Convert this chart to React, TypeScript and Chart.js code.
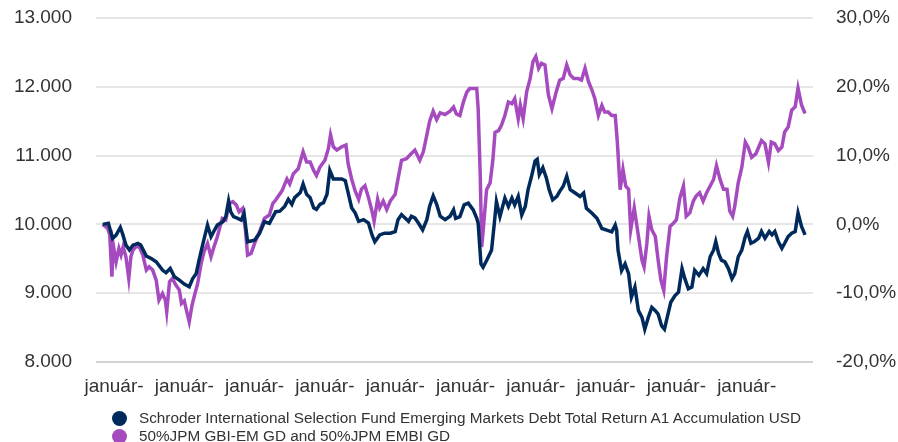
import React, { useEffect, useRef } from 'react';
import { Chart, registerables } from 'chart.js';

Chart.register(...registerables);

const fundLabel = 'Schroder International Selection Fund Emerging Markets Debt Total Return A1 Accumulation USD';
const benchLabel = '50%JPM GBI-EM GD and 50%JPM EMBI GD';

const tickYears = [2015, 2016, 2017, 2018, 2019, 2020, 2021, 2022, 2023, 2024];
const tickLabels = ['január-', 'január-', 'január-', 'január-', 'január-', 'január-', 'január-', 'január-', 'január-', 'január-'];
const leftTicks = [8000, 9000, 10000, 11000, 12000, 13000];
const rightTicks = [-20, -10, 0, 10, 20, 30];

// [decimal year, value of 10.000 invested]
const fundPoints: [number, number][] = [
  [2014.84, 10000], [2014.92, 10015], [2014.98, 9796], [2015.03, 9845], [2015.09, 9956], [2015.12, 9869],
  [2015.17, 9699], [2015.22, 9627], [2015.27, 9699], [2015.34, 9724], [2015.38, 9699], [2015.46, 9539],
  [2015.53, 9505], [2015.60, 9457], [2015.69, 9336], [2015.74, 9297], [2015.80, 9360], [2015.86, 9239],
  [2015.93, 9190], [2016.00, 9132], [2016.07, 9093], [2016.12, 9214], [2016.17, 9287], [2016.21, 9481],
  [2016.26, 9699], [2016.33, 9990], [2016.38, 9821], [2016.43, 9918], [2016.47, 9990], [2016.55, 10039],
  [2016.59, 10112], [2016.63, 10340], [2016.66, 10184], [2016.70, 10112], [2016.76, 10087], [2016.81, 10063],
  [2016.85, 10160], [2016.90, 9748], [2017.00, 9772], [2017.07, 9869], [2017.14, 10039], [2017.21, 10015],
  [2017.30, 10184], [2017.36, 10192], [2017.43, 10266], [2017.48, 10365], [2017.53, 10291], [2017.57, 10389],
  [2017.65, 10463], [2017.69, 10587], [2017.74, 10439], [2017.79, 10389], [2017.84, 10242], [2017.88, 10217],
  [2017.93, 10291], [2017.98, 10316], [2018.03, 10439], [2018.07, 10784], [2018.12, 10661], [2018.17, 10661],
  [2018.24, 10661], [2018.29, 10636], [2018.33, 10463], [2018.38, 10242], [2018.43, 10168], [2018.48, 10044],
  [2018.55, 10069], [2018.62, 10020], [2018.67, 9847], [2018.71, 9749], [2018.78, 9847], [2018.85, 9872],
  [2018.93, 9872], [2019.00, 9896], [2019.04, 10069], [2019.09, 10143], [2019.14, 10094], [2019.19, 10044],
  [2019.23, 10118], [2019.28, 10094], [2019.33, 10020], [2019.39, 9921], [2019.45, 10069], [2019.49, 10266],
  [2019.54, 10414], [2019.59, 10291], [2019.64, 10118], [2019.71, 10069], [2019.78, 10118], [2019.83, 10211],
  [2019.86, 10088], [2019.92, 10113], [2019.98, 10284], [2020.04, 10309], [2020.11, 10211], [2020.16, 10088],
  [2020.18, 10015], [2020.22, 9427], [2020.25, 9378], [2020.30, 9476], [2020.37, 9623], [2020.41, 10015],
  [2020.44, 10333], [2020.49, 10113], [2020.56, 10382], [2020.61, 10260], [2020.66, 10382], [2020.70, 10284],
  [2020.75, 10407], [2020.80, 10137], [2020.85, 10260], [2020.89, 10505], [2020.94, 10701], [2020.99, 10921],
  [2021.02, 10946], [2021.05, 10725], [2021.10, 10823], [2021.15, 10676], [2021.19, 10505], [2021.24, 10358],
  [2021.30, 10407], [2021.34, 10480], [2021.39, 10554], [2021.44, 10701], [2021.49, 10505], [2021.56, 10456],
  [2021.63, 10407], [2021.68, 10456], [2021.72, 10235], [2021.80, 10162], [2021.87, 10088], [2021.94, 9941],
  [2022.01, 9917], [2022.08, 9892], [2022.13, 9990], [2022.15, 9917], [2022.17, 9623], [2022.22, 9329],
  [2022.27, 9427], [2022.32, 9285], [2022.36, 8942], [2022.41, 9089], [2022.46, 8746], [2022.51, 8648],
  [2022.55, 8477], [2022.60, 8648], [2022.65, 8795], [2022.70, 8746], [2022.74, 8697], [2022.79, 8525],
  [2022.83, 8476], [2022.88, 8697], [2022.92, 8868], [2022.98, 8966], [2023.03, 9015], [2023.08, 9358],
  [2023.12, 9211], [2023.17, 9064], [2023.22, 9089], [2023.26, 9334], [2023.32, 9260], [2023.38, 9358],
  [2023.43, 9285], [2023.48, 9530], [2023.53, 9628], [2023.56, 9750], [2023.60, 9579], [2023.64, 9481],
  [2023.69, 9456], [2023.74, 9358], [2023.79, 9211], [2023.83, 9285], [2023.88, 9530], [2023.93, 9628],
  [2023.98, 9824], [2024.01, 9897], [2024.06, 9726], [2024.11, 9750], [2024.17, 9799], [2024.21, 9897],
  [2024.26, 9799], [2024.32, 9897], [2024.36, 9848], [2024.40, 9897], [2024.45, 9750], [2024.50, 9652],
  [2024.54, 9726], [2024.59, 9824], [2024.64, 9873], [2024.69, 9897], [2024.73, 10167], [2024.78, 9971],
  [2024.83, 9848],
];

const benchPoints: [number, number][] = [
  [2014.84, 10000], [2014.91, 9942], [2014.94, 9845], [2014.97, 9239], [2014.99, 9699], [2015.03, 9457],
  [2015.07, 9651], [2015.10, 9554], [2015.13, 9675], [2015.17, 9530], [2015.21, 9214], [2015.24, 9530],
  [2015.27, 9627], [2015.31, 9675], [2015.36, 9675], [2015.41, 9554], [2015.46, 9336], [2015.50, 9384],
  [2015.55, 9336], [2015.60, 9190], [2015.64, 8899], [2015.69, 8996], [2015.73, 8899], [2015.75, 8730],
  [2015.79, 9166], [2015.83, 9214], [2015.88, 9118], [2015.93, 9045], [2015.96, 8851], [2016.00, 8889],
  [2016.03, 8754], [2016.07, 8584], [2016.11, 8826], [2016.14, 8948], [2016.19, 9142], [2016.24, 9433],
  [2016.28, 9602], [2016.33, 9724], [2016.38, 9530], [2016.43, 9699], [2016.47, 9821], [2016.54, 10087],
  [2016.59, 10063], [2016.64, 10306], [2016.69, 10330], [2016.74, 10281], [2016.78, 10184], [2016.83, 10233],
  [2016.87, 9918], [2016.90, 9554], [2016.95, 9578], [2017.00, 9724], [2017.07, 9893], [2017.14, 10087],
  [2017.21, 10136], [2017.26, 10306], [2017.30, 10354], [2017.39, 10488], [2017.46, 10661], [2017.50, 10587],
  [2017.55, 10735], [2017.62, 10809], [2017.69, 11055], [2017.74, 10907], [2017.79, 10907], [2017.84, 10784],
  [2017.88, 10710], [2017.93, 10833], [2018.00, 10932], [2018.05, 11104], [2018.08, 11302], [2018.12, 11129],
  [2018.17, 11080], [2018.24, 11129], [2018.30, 11154], [2018.33, 10882], [2018.38, 10661], [2018.43, 10488],
  [2018.48, 10365], [2018.52, 10513], [2018.57, 10562], [2018.62, 10389], [2018.67, 10192], [2018.70, 10044],
  [2018.75, 10365], [2018.78, 10242], [2018.83, 10340], [2018.88, 10217], [2018.93, 10340], [2019.00, 10439],
  [2019.04, 10661], [2019.09, 10932], [2019.16, 10956], [2019.23, 11030], [2019.28, 11080], [2019.35, 10932],
  [2019.40, 11055], [2019.45, 11302], [2019.49, 11499], [2019.54, 11647], [2019.59, 11523], [2019.64, 11622],
  [2019.71, 11597], [2019.78, 11647], [2019.83, 11705], [2019.87, 11607], [2019.92, 11583], [2019.97, 11779],
  [2020.02, 11926], [2020.06, 11975], [2020.11, 11975], [2020.16, 11975], [2020.18, 11681], [2020.21, 10701],
  [2020.23, 9672], [2020.25, 9892], [2020.30, 10505], [2020.35, 10603], [2020.39, 10946], [2020.42, 11338],
  [2020.47, 11362], [2020.51, 11436], [2020.56, 11583], [2020.61, 11779], [2020.66, 11754], [2020.70, 11828],
  [2020.75, 11534], [2020.78, 11730], [2020.82, 11534], [2020.87, 11926], [2020.92, 12122], [2020.96, 12367],
  [2021.00, 12440], [2021.04, 12269], [2021.08, 12342], [2021.13, 12318], [2021.18, 11877], [2021.23, 11681],
  [2021.29, 11926], [2021.34, 12097], [2021.39, 12122], [2021.44, 12318], [2021.49, 12171], [2021.54, 12122],
  [2021.60, 12122], [2021.65, 12097], [2021.70, 12269], [2021.75, 12073], [2021.80, 11950], [2021.84, 11828],
  [2021.89, 11583], [2021.94, 11730], [2021.98, 11632], [2022.03, 11632], [2022.08, 11583], [2022.13, 11583],
  [2022.16, 11191], [2022.20, 10505], [2022.24, 10799], [2022.28, 10554], [2022.32, 10510], [2022.35, 9922],
  [2022.40, 10240], [2022.45, 9897], [2022.51, 9481], [2022.54, 9383], [2022.58, 9726], [2022.61, 10118],
  [2022.65, 9922], [2022.70, 9824], [2022.74, 9481], [2022.78, 9187], [2022.82, 9040], [2022.86, 9530],
  [2022.91, 9971], [2022.96, 10020], [2023.00, 10069], [2023.05, 10387], [2023.10, 10559], [2023.14, 10118],
  [2023.19, 10167], [2023.24, 10338], [2023.28, 10412], [2023.33, 10461], [2023.38, 10338], [2023.43, 10461],
  [2023.48, 10559], [2023.53, 10657], [2023.57, 10853], [2023.62, 10657], [2023.67, 10510], [2023.72, 10510],
  [2023.76, 10191], [2023.80, 10118], [2023.83, 10265], [2023.88, 10608], [2023.93, 10828], [2023.98, 11196],
  [2024.02, 11122], [2024.07, 10975], [2024.13, 11024], [2024.17, 11122], [2024.21, 11220], [2024.26, 11171],
  [2024.31, 10902], [2024.35, 11196], [2024.40, 11171], [2024.45, 11073], [2024.50, 11122], [2024.54, 11343],
  [2024.59, 11416], [2024.64, 11661], [2024.69, 11710], [2024.73, 11980], [2024.78, 11735], [2024.83, 11612],
];

const fundColor = '#002a5c';
const benchColor = '#a64bbf';
const textColor = '#333333';
const fontFamily = 'Arial, "Liberation Sans", Helvetica, sans-serif';

const fmtThousands = (v: number) => String(v).replace(/\B(?=(\d{3})+(?!\d))/g, '.');
const fmtPct = (v: number) => v.toFixed(1).replace('.', ',') + '%';

export default function App() {
  const canvasRef = useRef<HTMLCanvasElement | null>(null);

  useEffect(() => {
    document.body.style.margin = '0';
    const canvas = canvasRef.current;
    if (!canvas) return;
    const chart = new Chart(canvas, {
      type: 'line',
      data: {
        datasets: [
          {
            label: fundLabel,
            data: fundPoints.map(([x, y]) => ({ x, y })),
            borderColor: fundColor,
            backgroundColor: fundColor,
            borderWidth: 3.5,
            pointRadius: 0,
            tension: 0,
            yAxisID: 'y',
          },
          {
            label: benchLabel,
            data: benchPoints.map(([x, y]) => ({ x, y })),
            borderColor: benchColor,
            backgroundColor: benchColor,
            borderWidth: 3.5,
            pointRadius: 0,
            tension: 0,
            yAxisID: 'y',
          },
        ],
      },
      options: {
        animation: false,
        responsive: false,
        maintainAspectRatio: false,
        layout: { padding: { top: 18, left: 0, right: 0, bottom: 0 } },
        plugins: { legend: { display: false }, tooltip: { enabled: false } },
        scales: {
          x: {
            type: 'linear',
            min: 2014.744,
            max: 2024.943,
            grid: { display: false, drawTicks: false },
            border: { display: false },
            afterBuildTicks: (scale: any) => {
              scale.ticks = tickYears.map((v) => ({ value: v }));
            },
            afterFit: (scale: any) => {
              scale.height = 80;
            },
            ticks: {
              autoSkip: false,
              maxRotation: 0,
              padding: 13,
              color: textColor,
              font: { family: fontFamily, size: 19 },
              callback: (_v: any, i: number) => tickLabels[i],
            },
          },
          y: {
            type: 'linear',
            position: 'left',
            min: leftTicks[0],
            max: leftTicks[leftTicks.length - 1],
            afterBuildTicks: (scale: any) => {
              scale.ticks = leftTicks.map((v) => ({ value: v }));
            },
            afterFit: (scale: any) => {
              scale.width = 96;
              scale.paddingTop = 0;
              scale.paddingBottom = 0;
            },
            border: { display: false },
            grid: {
              drawTicks: false,
              lineWidth: 2,
              color: (ctx: any) => (ctx.tick && ctx.tick.value === leftTicks[0] ? '#d2d2d2' : '#e6e6e6'),
            },
            ticks: {
              padding: 24,
              color: textColor,
              font: { family: fontFamily, size: 19 },
              callback: (v: any) => fmtThousands(Number(v)),
            },
          },
          y1: {
            type: 'linear',
            position: 'right',
            min: rightTicks[0],
            max: rightTicks[rightTicks.length - 1],
            afterBuildTicks: (scale: any) => {
              scale.ticks = rightTicks.map((v) => ({ value: v }));
            },
            afterFit: (scale: any) => {
              scale.width = 85;
              scale.paddingTop = 0;
              scale.paddingBottom = 0;
            },
            border: { display: false },
            grid: { display: false, drawTicks: false },
            ticks: {
              padding: 23,
              color: textColor,
              font: { family: fontFamily, size: 19 },
              callback: (v: any) => fmtPct(Number(v)),
            },
          },
        },
      },
    } as any);
    return () => chart.destroy();
  }, []);

  const legendItems = [
    { label: fundLabel, color: fundColor },
    { label: benchLabel, color: benchColor },
  ];

  return (
    <div style={{ position: 'relative', width: 898, height: 442, background: '#fff', overflow: 'hidden' }}>
      <canvas ref={canvasRef} width={898} height={442} style={{ display: 'block', width: 898, height: 442 }} />
      <div style={{ position: 'absolute', left: 112, top: 409, fontFamily, fontSize: 15.3, color: textColor }}>
        {legendItems.map((it) => (
          <div key={it.label} style={{ display: 'flex', alignItems: 'center', height: 18, whiteSpace: 'nowrap' }}>
            <span style={{ display: 'inline-block', width: 15, height: 15, borderRadius: '50%', background: it.color, marginRight: 12, flexShrink: 0 }} />
            <span>{it.label}</span>
          </div>
        ))}
      </div>
    </div>
  );
}
